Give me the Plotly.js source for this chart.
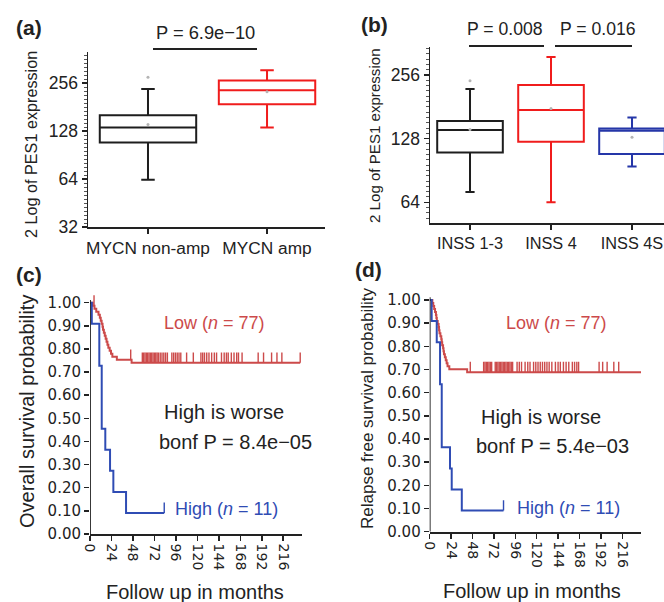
<!DOCTYPE html>
<html>
<head>
<meta charset="utf-8">
<script src="https://cdn.plot.ly/plotly-3.0.1.min.js"></script>
<style>html,body{margin:0;padding:0;background:#fff;}#chart{width:664px;height:602px;}</style>
</head>
<body>
<div id="chart"></div>
<script>
// ---------- Panel (a): PES1 by MYCN status ----------
const catsA = ['MYCN non-amp', 'MYCN amp'];
const aLow = [63.4, 135];
const aQ1 = [108.6, 189];
const aMed = [135, 231];
const aQ3 = [161, 266];
const aUp = [235, 309];
const aMean = [141, 226];
const aOutlier = [279, null];
const aColors = ['#1e1e1e', '#f01c1c'];

// ---------- Panel (b): PES1 by INSS stage ----------
const catsB = ['INSS 1-3', 'INSS 4', 'INSS 4S'];
const bLow = [71.5, 64, 94.6];
const bQ1 = [110, 123.7, 108.2];
const bMed = [140.6, 175, 139.5];
const bQ3 = [155, 229.6, 143];
const bUp = [219.6, 312, 161.4];
const bMean = [141.6, 178, 129.8];
const bOutlier = [240.6, null, null];
const bColors = ['#1e1e1e', '#f01c1c', '#2536a8'];

const logTicks = [32, 64, 128, 256];

// ---------- Panel (c): overall survival ----------
const cLowT = [3, 5, 7, 9.5, 11, 12, 13, 14, 14.5, 15.5, 16.5, 17.5, 18.5, 19.5, 20.5, 22, 23.5, 25, 30, 46.5];
const cLowS = [0.987, 0.974, 0.961, 0.948, 0.935, 0.922, 0.909, 0.896, 0.883, 0.870, 0.857, 0.844, 0.831, 0.818, 0.805, 0.792, 0.779, 0.766, 0.753, 0.740];
const cLowEnd = 235;
const cLowCens = [4.5, 45.5, 58.5, 60, 61.5, 63, 64.5, 66, 67.5, 69, 70.5, 72, 73.5, 75, 76.5, 78.5, 80.5, 82.5, 84.5, 86.5, 91.5, 93.5, 95.5, 97.5, 99.5, 101.5, 108, 115.5, 124, 126, 128, 130.5, 133, 136, 139, 141.5, 147, 150, 152.5, 154.5, 158, 161, 164, 166, 170, 188, 194, 203, 209, 214.5, 235];
const cHighT = [2, 10.4, 13.1, 17.1, 22.4, 26.1, 40.3];
const cHighS = [0.909, 0.727, 0.455, 0.364, 0.273, 0.182, 0.091];
const cHighEnd = 83;
const cHighCens = [83];

// ---------- Panel (d): relapse free survival ----------
const dLowT = [3, 4, 5, 6, 7, 7.5, 8, 9, 10, 10.5, 11, 12, 13, 13.5, 14, 15, 15.5, 16, 17, 18, 19, 20, 22, 42];
const dLowS = [0.987, 0.974, 0.961, 0.948, 0.935, 0.922, 0.909, 0.896, 0.883, 0.870, 0.857, 0.844, 0.831, 0.818, 0.805, 0.792, 0.779, 0.766, 0.753, 0.740, 0.727, 0.714, 0.701, 0.688];
const dLowEnd = 238;
const dLowCens = [45.5, 60.5, 62, 63.5, 65, 66.5, 68, 69.5, 73.5, 75, 76.5, 78, 79.5, 81, 82.5, 84, 85.5, 87, 88.5, 90, 91.5, 93, 98, 100.5, 103, 107, 110, 112.5, 116.5, 119, 121.5, 124, 126.5, 129, 131.5, 134, 137, 141, 144, 146.5, 150, 153, 156, 160, 162.5, 165, 167, 190, 194, 199, 206.5, 212, 238];
const dHighT = [2.2, 7.9, 11.6, 13.5, 22.8, 24.7, 36];
const dHighS = [0.909, 0.818, 0.636, 0.364, 0.273, 0.182, 0.091];
const dHighEnd = 82.8;
const dHighCens = [82.8];

const monthTicks = [0, 24, 48, 72, 96, 120, 144, 168, 192, 216];
const probTicks = [0, 0.1, 0.2, 0.3, 0.4, 0.5, 0.6, 0.7, 0.8, 0.9, 1.0];

const kmRed = '#cc4a4a';
const kmBlue = '#2f4cb4';
const ink = '#222222';
const fontA = 'Liberation Sans, Arial, sans-serif';
const fontW = 'DejaVu Sans, Verdana, sans-serif';

const W = 664, H = 602;
const px = v => v / W;
const py = v => 1 - v / H;

const traces = [];

function addBoxes(cats, lo, q1, med, q3, up, colors, xa, ya) {
  cats.forEach((c, i) => {
    traces.push({
      type: 'box', x: [c], q1: [q1[i]], median: [med[i]], q3: [q3[i]],
      lowerfence: [lo[i]], upperfence: [up[i]],
      xaxis: xa, yaxis: ya, width: 0.81, whiskerwidth: 0.14,
      line: {color: colors[i], width: 2}, fillcolor: 'rgba(0,0,0,0)',
      boxpoints: false, hoverinfo: 'skip'
    });
  });
}
function addDots(cats, vals, xa, ya) {
  traces.push({type: 'scatter', mode: 'markers', x: cats, y: vals, xaxis: xa, yaxis: ya,
    marker: {size: 3, color: '#b4b4b4'}, hoverinfo: 'skip'});
}
addBoxes(catsA, aLow, aQ1, aMed, aQ3, aUp, aColors, 'x', 'y');
addDots(catsA, aMean, 'x', 'y');
addDots(catsA, aOutlier, 'x', 'y');
addBoxes(catsB, bLow, bQ1, bMed, bQ3, bUp, bColors, 'x2', 'y2');
addDots(catsB, bMean, 'x2', 'y2');
addDots(catsB, bOutlier, 'x2', 'y2');

function survAt(T, S, t) {
  let s = 1;
  for (let i = 0; i < T.length; i++) { if (T[i] <= t) s = S[i]; }
  return s;
}
function addKM(T, S, end, cens, color, xa, ya) {
  traces.push({type: 'scatter', mode: 'lines', x: [0].concat(T, [end]), y: [1].concat(S, [S[S.length - 1]]),
    line: {shape: 'hv', color: color, width: 2}, xaxis: xa, yaxis: ya, hoverinfo: 'skip'});
  const cx = [], cy = [];
  cens.forEach(t => { const s = survAt(T, S, t); cx.push(t, t, null); cy.push(s, s + 0.045, null); });
  traces.push({type: 'scatter', mode: 'lines', x: cx, y: cy, line: {color: color, width: 1.4},
    xaxis: xa, yaxis: ya, hoverinfo: 'skip'});
}
addKM(cLowT, cLowS, cLowEnd, cLowCens, kmRed, 'x3', 'y3');
addKM(cHighT, cHighS, cHighEnd, cHighCens, kmBlue, 'x3', 'y3');
addKM(dLowT, dLowS, dLowEnd, dLowCens, kmRed, 'x4', 'y4');
addKM(dHighT, dHighS, dHighEnd, dHighCens, kmBlue, 'x4', 'y4');

const minorLog = [];
for (let k = 60; k <= 104; k++) minorLog.push(Math.pow(2, k / 12));

const boxY = (dom, range) => ({
  domain: dom, type: 'log', range: range, tickvals: logTicks, ticktext: logTicks.map(String),
  ticks: 'outside', ticklen: 5, tickwidth: 1.5, tickcolor: ink, showline: true, linewidth: 1.5, linecolor: ink,
  showgrid: false, zeroline: false, tickfont: {family: fontA, size: 17.5, color: ink},
  minor: {tickmode: 'array', tickvals: minorLog, ticks: 'outside', ticklen: 2.5, tickwidth: 1, tickcolor: '#555'}
});
const boxX = (dom, range, cats, size) => ({
  domain: dom, type: 'category', categoryorder: 'array', categoryarray: cats, range: range, tickangle: 0,
  ticks: 'outside', ticklen: 5, tickwidth: 1.5, tickcolor: ink, showline: true, linewidth: 1.5, linecolor: ink,
  showgrid: false, zeroline: false, tickfont: {family: fontA, size: size, color: ink}
});
const kmX = (dom) => ({
  domain: dom, range: [0, 237], tickvals: monthTicks, tickangle: 90,
  ticks: 'outside', ticklen: 5, tickwidth: 1.5, tickcolor: ink, showline: true, linewidth: 1.8, linecolor: ink,
  showgrid: false, zeroline: false, tickfont: {family: fontW, size: 14, color: ink}
});
const kmY = (dom) => ({
  domain: dom, range: [0, 1.05], tickvals: probTicks, tickformat: '.2f',
  ticks: 'outside', ticklen: 5, tickwidth: 1.5, tickcolor: ink, showline: false,
  showgrid: false, zeroline: false, tickfont: {family: fontW, size: 15, color: ink}
});

const ann = (text, x, y, opts) => Object.assign({
  text: text, x: px(x), y: py(y), xref: 'paper', yref: 'paper', showarrow: false,
  xanchor: 'center', yanchor: 'middle', font: {family: fontA, size: 20, color: ink}
}, opts || {});

const lab = {family: fontA, size: 21, color: ink};
const annotations = [
  ann('<b>(a)</b>', 29, 27, {font: lab}),
  ann('<b>(b)</b>', 374, 24, {font: lab}),
  ann('<b>(c)</b>', 29, 274, {font: lab}),
  ann('<b>(d)</b>', 368, 270, {font: lab}),
  ann('P = 6.9e\u221210', 205, 33, {font: {family: fontA, size: 18.3, color: ink}}),
  ann('P = 0.008', 505, 29, {font: {family: fontA, size: 17.6, color: ink}}),
  ann('P = 0.016', 598, 29, {font: {family: fontA, size: 17.6, color: ink}}),
  ann('2 Log of PES1 expression', 31, 145, {textangle: -90, font: {family: fontA, size: 16.2, color: ink}}),
  ann('2 Log of PES1 expression', 374, 136, {textangle: -90, font: {family: fontA, size: 15.1, color: ink}}),
  ann('Low (<i>n</i> = 77)', 215, 323, {font: {family: fontA, size: 18, color: kmRed}}),
  ann('High is worse', 224, 412),
  ann('bonf P = 8.4e\u221205', 235, 442),
  ann('High (<i>n</i> = 11)', 227, 509, {font: {family: fontA, size: 18, color: kmBlue}}),
  ann('Follow up in months', 195, 592),
  ann('Overall survival probability', 27, 412, {textangle: -90}),
  ann('Low (<i>n</i> = 77)', 556, 323, {font: {family: fontA, size: 18, color: kmRed}}),
  ann('High is worse', 541, 417),
  ann('bonf P = 5.4e\u221203', 552, 446),
  ann('High (<i>n</i> = 11)', 568, 508, {font: {family: fontA, size: 18, color: kmBlue}}),
  ann('Follow up in months', 532, 591),
  ann('Relapse free survival probability', 367, 409, {textangle: -90, font: {family: fontA, size: 17, color: ink}})
];

const shapes = [
  {type: 'line', xref: 'paper', yref: 'paper', x0: px(153), x1: px(257), y0: py(49), y1: py(49), line: {color: ink, width: 1.8}},
  {type: 'line', xref: 'paper', yref: 'paper', x0: px(469), x1: px(544), y0: py(46), y1: py(46), line: {color: ink, width: 1.8}},
  {type: 'line', xref: 'paper', yref: 'paper', x0: px(555), x1: px(632), y0: py(46), y1: py(46), line: {color: ink, width: 1.8}},
  {type: 'line', xref: 'x3', yref: 'y3', x0: 0, x1: 0, y0: 0, y1: 1.012, line: {color: ink, width: 1.8}},
  {type: 'line', xref: 'x4', yref: 'y4', x0: 0, x1: 0, y0: 0, y1: 1.012, line: {color: ink, width: 1.8}}
];

const layout = {
  width: W, height: H, margin: {l: 0, r: 0, t: 0, b: 0},
  paper_bgcolor: '#ffffff', plot_bgcolor: '#ffffff', showlegend: false,
  xaxis: boxX([px(88), px(325)], [-0.504, 1.487], catsA, 17.3),
  yaxis: boxY([py(227), py(52)], [Math.log10(32), 2.604]),
  xaxis2: boxX([px(430), 1], [-0.494, 2.395], catsB, 16.3),
  yaxis2: boxY([py(223), py(47)], [1.708, 2.541]),
  xaxis3: kmX([px(90), px(302)]),
  yaxis3: kmY([py(534), py(534 - 1.05 * 231.3)]),
  xaxis4: kmX([px(429.7), px(641)]),
  yaxis4: kmY([py(531.7), py(531.7 - 1.05 * 231.7)]),
  annotations: annotations, shapes: shapes
};
layout.xaxis.anchor = 'y'; layout.yaxis.anchor = 'x';
layout.xaxis2.anchor = 'y2'; layout.yaxis2.anchor = 'x2';
layout.xaxis3.anchor = 'y3'; layout.yaxis3.anchor = 'x3';
layout.xaxis4.anchor = 'y4'; layout.yaxis4.anchor = 'x4';

Plotly.newPlot('chart', traces, layout, {displayModeBar: false, staticPlot: true});
</script>
</body>
</html>
